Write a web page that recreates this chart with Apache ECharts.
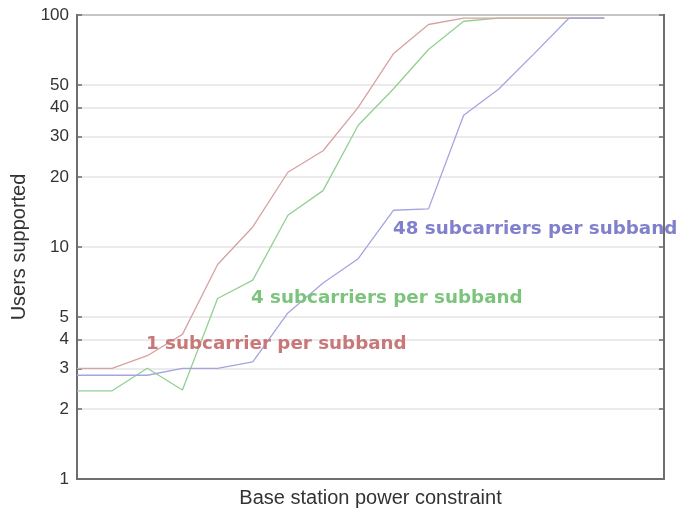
<!DOCTYPE html>
<html><head><meta charset="utf-8">
<script src="https://cdn.jsdelivr.net/npm/echarts@6/dist/echarts.min.js"></script>
<style>html,body{margin:0;padding:0;background:#fff}#c{width:693px;height:512px}</style>
</head><body><div id="c"></div>
<script>
const xValues = [0,1,2,3,4,5,6,7,8,9,10,11,12,13,14,15];
const oneSub = [3.0,3.0,3.4,4.2,8.4,12.2,21,26,40,68,91,97,97,97,97,97];
const fourSub = [2.4,2.4,3.0,2.42,6.0,7.2,13.7,17.5,33.5,48,71,94,97,97,97,97];
const fortyEightSub = [2.8,2.8,2.8,3.0,3.0,3.2,5.2,7.0,8.9,14.4,14.6,37,48,68,97,97];
const yTicks = [1,2,3,4,5,10,20,30,40,50,100];
const seriesNames = ['1 subcarrier per subband','4 subcarriers per subband','48 subcarriers per subband'];

const chart = echarts.init(document.getElementById('c'));
const pair = arr => xValues.map((x,i)=>[x,arr[i]]);
const lineColors = ['#d6a2a2','#92d092','#a4a4e0'];
const textColors = ['#c87878','#7cc47c','#8080cc'];
const yBase = {type:'log', logBase:10, min:1, max:100};
chart.setOption({
  animation:false,
  grid:{left:77,right:29,top:15,bottom:33,outerBoundsMode:'none',containLabel:false,show:true,borderColor:'#6e6e6e',borderWidth:2,backgroundColor:'transparent'},
  xAxis:{type:'value',min:0,max:16.7,
    name:'Base station power constraint',nameLocation:'middle',nameGap:9,
    nameTextStyle:{fontFamily:'Liberation Sans',fontSize:20,color:'#333',verticalAlign:'top'},
    axisLine:{show:true,lineStyle:{color:'#6e6e6e',width:2}},
    axisTick:{show:false},axisLabel:{show:false},splitLine:{show:false}},
  yAxis:[
    Object.assign({}, yBase, {
      position:'left',
      name:'Users supported',nameLocation:'middle',nameGap:47,
      nameTextStyle:{fontFamily:'Liberation Sans',fontSize:20,color:'#333'},
      axisLine:{show:true,lineStyle:{color:'#6e6e6e',width:2}},
      axisTick:{show:true,inside:true,length:5,customValues:yTicks,lineStyle:{color:'#6e6e6e',width:1.5}},
      axisLabel:{customValues:yTicks,fontFamily:'Liberation Sans',fontSize:17,color:'#333',margin:8,padding:[3,0,0,0]},
      splitLine:{show:true,lineStyle:{color:'#e4e4e4',width:1.5}},
      minorTick:{show:false}
    }),
    Object.assign({}, yBase, {
      position:'right',
      axisLine:{show:true,lineStyle:{color:'#6e6e6e',width:2}},
      axisTick:{show:true,inside:true,length:5,customValues:yTicks,lineStyle:{color:'#6e6e6e',width:1.5}},
      axisLabel:{show:false},
      splitLine:{show:false}
    })
  ],
  series:[
    {name:seriesNames[0],type:'line',data:pair(oneSub),symbol:'none',lineStyle:{color:lineColors[0],width:1.3},z:3},
    {name:seriesNames[1],type:'line',data:pair(fourSub),symbol:'none',lineStyle:{color:lineColors[1],width:1.3},z:2},
    {name:seriesNames[2],type:'line',data:pair(fortyEightSub),symbol:'none',lineStyle:{color:lineColors[2],width:1.3},z:4}
  ],
  graphic:[
    {type:'text',left:146,top:335,z:100,style:{text:seriesNames[0],fill:textColors[0],font:'bold 18.3px "DejaVu Sans"'}},
    {type:'text',left:251,top:289,z:100,style:{text:seriesNames[1],fill:textColors[1],font:'bold 18.3px "DejaVu Sans"'}},
    {type:'text',left:393,top:220,z:100,style:{text:seriesNames[2],fill:textColors[2],font:'bold 18.3px "DejaVu Sans"'}}
  ]
});
</script></body></html>
